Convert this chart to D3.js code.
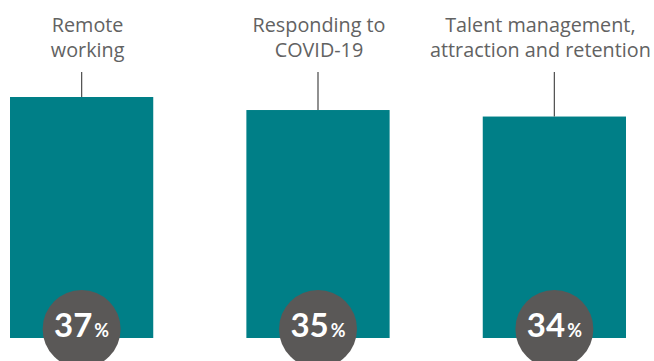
<!DOCTYPE html>
<html>
<head>
<meta charset="utf-8">
<script src="https://cdn.jsdelivr.net/npm/d3@7"></script>
<style>
  html, body { margin: 0; padding: 0; background: #fff; }
  svg { display: block; }
</style>
</head>
<body>
<svg id="chart" width="654" height="361"></svg>
<script>
// Top concerns: share of respondents
const categories = ["Remote working", "Responding to COVID-19", "Talent management, attraction and retention"];
const labelLines = [["Remote", "working"], ["Responding to", "COVID-19"], ["Talent management,", "attraction and retention"]];
const values = [37, 35, 34];

const barColor = "#007f87";
const badgeColor = "#5a5857";
const textColor = "#626262";
// horizontal nudge of each category label relative to its bar centre
const labelNudge = [6, 1, -14];

const svg = d3.select("#chart");

const x = d3.scaleBand()
  .domain(categories)
  .range([10, 626])
  .paddingInner(0.394)
  .paddingOuter(0);

const baseY = 338;
const y = d3.scaleLinear().domain([0, 37]).range([baseY, 97]);
const cx = d => x(d) + x.bandwidth() / 2;

const g = svg.append("g");

// bars
g.selectAll("rect.bar")
  .data(categories)
  .join("rect")
  .attr("class", "bar")
  .attr("x", d => x(d))
  .attr("y", (d, i) => y(values[i]))
  .attr("width", x.bandwidth())
  .attr("height", (d, i) => y(0) - y(values[i]))
  .attr("fill", barColor);

// connector lines from labels to bars
g.selectAll("line.leader")
  .data(categories)
  .join("line")
  .attr("class", "leader")
  .attr("x1", cx)
  .attr("x2", cx)
  .attr("y1", 72)
  .attr("y2", (d, i) => y(values[i]))
  .attr("stroke", "#555")
  .attr("stroke-width", 1.3);

// category labels
const labels = g.selectAll("text.cat")
  .data(categories)
  .join("text")
  .attr("class", "cat")
  .attr("y", 32)
  .attr("text-anchor", "middle")
  .attr("fill", textColor)
  .style("font-family", "'Open Sans', sans-serif")
  .style("font-weight", 400)
  .style("font-size", "19.8px");

labels.selectAll("tspan")
  .data((d, i) => labelLines[i].map(t => ({ t, c: d, i })))
  .join("tspan")
  .attr("x", d => cx(d.c) + labelNudge[d.i])
  .attr("dy", (d, j) => j === 0 ? 0 : 25)
  .text(d => d.t);

// value badges
const badges = g.selectAll("g.badge")
  .data(categories)
  .join("g")
  .attr("class", "badge")
  .attr("transform", d => `translate(${cx(d)},329)`);

badges.append("circle")
  .attr("r", 39)
  .attr("fill", badgeColor);

const vt = badges.append("text")
  .attr("x", 0)
  .attr("y", 8)
  .attr("text-anchor", "middle")
  .attr("fill", "#fff")
  .style("font-family", "Lato, 'Open Sans', sans-serif")
  .style("font-weight", 700);

vt.append("tspan")
  .style("font-size", "33px")
  .text((d, i) => values[i]);
vt.append("tspan")
  .style("font-size", "18px")
  .attr("dx", 2)
  .text("%");
</script>
</body>
</html>
